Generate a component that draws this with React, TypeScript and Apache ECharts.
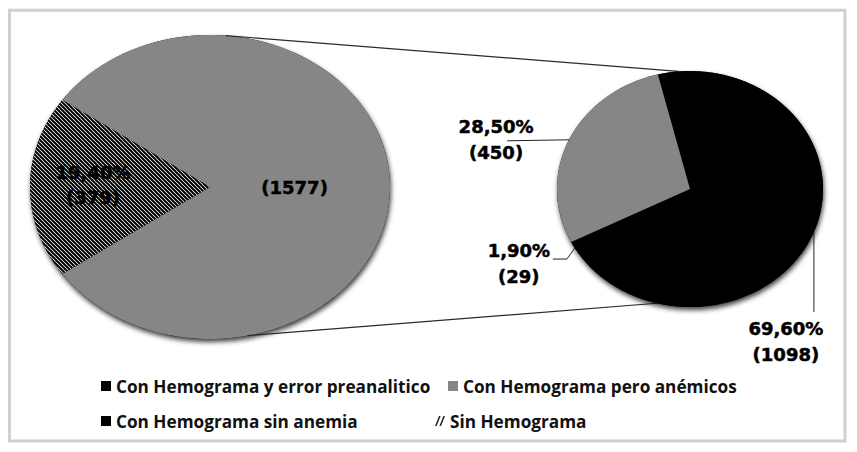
import React, { useEffect, useRef } from 'react';
import * as echarts from 'echarts';

// ---------- DATA ----------
const leftNames = ['Sin Hemograma', 'Con Hemograma'];
const leftValues = [379, 1577];
const leftPercentLabels = ['19,40%', ''];

const rightNames = [
  'Con Hemograma sin anemia',
  'Con Hemograma y error preanalitico',
  'Con Hemograma pero anémicos',
];
const rightValues = [1098, 29, 450];
const rightPercentLabels = ['69,60%', '1,90%', '28,50%'];

const legendNames = [
  'Con Hemograma y error preanalitico',
  'Con Hemograma pero anémicos',
  'Con Hemograma sin anemia',
  'Sin Hemograma',
];

// ---------- LAYOUT / STYLE ----------
const LEFT_PIE = { cx: 210, cy: 187, rx: 180, ry: 152 };
const RIGHT_PIE = { cx: 690, cy: 189, rx: 133, ry: 118 };
const RIGHT_START_DEG = -104;
const GRAY = '#868686';
const LABEL_FONT = {
  fontFamily: 'DejaVu Sans',
  fontWeight: 'bold' as const,
  fontSize: 18,
  stroke: '#000',
  lineWidth: 0.5,
};

const HATCH_SVG =
  'data:image/svg+xml;charset=utf-8,' +
  encodeURIComponent(
    '<svg xmlns="http://www.w3.org/2000/svg" width="4" height="4"><rect width="4" height="4" fill="#fff"/><path d="M-1,3 L1,5 M0,0 L4,4 M3,-1 L5,1" stroke="#000" stroke-width="2"/></svg>'
  );
const hatchFill: any = { image: HATCH_SVG, repeat: 'repeat', imageWidth: 4, imageHeight: 4 };

const leftFills: any[] = [hatchFill, GRAY];
const rightFills: any[] = ['#000', '#000', GRAY];

// label layout for left (inside) labels: fraction of radius along mid angle
const leftLabelLayout = [
  { f: 0.65, dy: -2 },
  { f: 0.47, dy: 0 },
];
// right labels: leader points and text centre relative to the slice anchor on the rim
const rightLabelLayout = [
  { leader: [[0, 0], [0, 80]], text: [-28, 110] },
  { leader: [[0, 0], [-8, 11], [-22, 11]], text: [-56, 15] },
  { leader: [[0, 0], [-62, 1]], text: [-73, 0] },
];
// connector angles (deg) on left and right ellipse
const CONNECT = { leftTop: -85, rightTop: -95, leftBottom: 78, rightBottom: 104.5 };

// ---------- HELPERS ----------
const rad = (d: number) => (d * Math.PI) / 180;

function sliceAngles(values: number[], start: number) {
  const total = values.reduce((a, b) => a + b, 0);
  let a = start;
  return values.map((v) => {
    const s = a;
    a += (v / total) * Math.PI * 2;
    return [s, a];
  });
}

function pt(p: typeof LEFT_PIE, a: number, f = 1) {
  return [p.cx + p.rx * f * Math.cos(a), p.cy + p.ry * f * Math.sin(a)];
}

function slicePoints(p: typeof LEFT_PIE, a0: number, a1: number) {
  const pts: number[][] = [[p.cx, p.cy]];
  const n = Math.max(2, Math.ceil(Math.abs(a1 - a0) / rad(1)));
  for (let i = 0; i <= n; i++) pts.push(pt(p, a0 + ((a1 - a0) * i) / n));
  return pts;
}

const leftTotal = leftValues.reduce((a, b) => a + b, 0);
const leftStart = Math.PI - (leftValues[0] / leftTotal) * Math.PI;
const leftAngles = sliceAngles(leftValues, leftStart);
const rightAngles = sliceAngles(rightValues, rad(RIGHT_START_DEG));

function underlay(p: typeof LEFT_PIE) {
  return {
    type: 'ellipse',
    shape: { cx: p.cx, cy: p.cy, rx: p.rx, ry: p.ry },
    style: {
      fill: '#111',
      shadowBlur: 5,
      shadowOffsetX: 1,
      shadowOffsetY: 3,
      shadowColor: 'rgba(0,0,0,0.75)',
    },
  };
}

function labelText(pct: string, v: number) {
  return pct ? `${pct}\n(${v})` : `(${v})`;
}

function leftRender(i: number) {
  return (_params: any, api: any) => {
    const v = api.value(0);
    const [a0, a1] = leftAngles[i];
    const children: any[] = [];
    if (i === 1) {
      children.push(underlay(LEFT_PIE));
    }
    children.push({ type: 'polygon', shape: { points: slicePoints(LEFT_PIE, a0, a1) }, style: { fill: leftFills[i] } });
    if (i === 1) {
      const lt = pt(LEFT_PIE, rad(CONNECT.leftTop));
      const rt = pt(RIGHT_PIE, rad(CONNECT.rightTop));
      const lb = pt(LEFT_PIE, rad(CONNECT.leftBottom));
      const rb = pt(RIGHT_PIE, rad(CONNECT.rightBottom));
      children.push({ type: 'line', shape: { x1: lt[0], y1: lt[1], x2: rt[0], y2: rt[1] }, style: { stroke: '#2a2a2a', lineWidth: 1.2 } });
      children.push({ type: 'line', shape: { x1: lb[0], y1: lb[1], x2: rb[0], y2: rb[1] }, style: { stroke: '#2a2a2a', lineWidth: 1.2 } });
    }
    const mid = (a0 + a1) / 2;
    const c = pt(LEFT_PIE, mid, leftLabelLayout[i].f);
    children.push({
      type: 'text',
      z2: 10,
      style: {
        text: labelText(leftPercentLabels[i], v),
        x: c[0],
        y: c[1] + leftLabelLayout[i].dy,
        fill: '#000',
        align: 'center',
        verticalAlign: 'middle',
        lineHeight: 25,
        ...LABEL_FONT,
      },
    });
    return { type: 'group', children };
  };
}

function rightRender(i: number) {
  return (_params: any, api: any) => {
    const v = api.value(0);
    const [a0, a1] = rightAngles[i];
    const children: any[] = [];
    if (i === 0) children.push(underlay(RIGHT_PIE));
    children.push({ type: 'polygon', shape: { points: slicePoints(RIGHT_PIE, a0, a1) }, style: { fill: rightFills[i] } });
    const anchor = pt(RIGHT_PIE, (a0 + a1) / 2);
    const lay = rightLabelLayout[i];
    children.push({
      type: 'polyline',
      shape: { points: lay.leader.map(([dx, dy]) => [anchor[0] + dx, anchor[1] + dy]) },
      style: { stroke: '#222', lineWidth: 1, fill: 'none' },
    });
    children.push({
      type: 'text',
      style: {
        text: labelText(rightPercentLabels[i], v),
        x: anchor[0] + lay.text[0],
        y: anchor[1] + lay.text[1],
        fill: '#000',
        align: 'center',
        verticalAlign: 'middle',
        lineHeight: 26,
        ...LABEL_FONT,
      },
    });
    return { type: 'group', children };
  };
}

const legendTextStyle = {
  fontFamily: 'Open Sans',
  fontWeight: 'bold' as const,
  fontSize: 17.2,
  color: '#111',
  lineHeight: 20,
};

function legendItem(name: string, left: number, top: number, icon: string, color: string) {
  return {
    data: [{ name, icon, itemStyle: { color } }],
    left,
    top,
    padding: 0,
    itemWidth: 10,
    itemHeight: 10,
    selectedMode: false,
    textStyle: legendTextStyle,
  };
}

const HATCH_ICON = 'path://M0,10 L4,0 L5.6,0 L1.6,10 Z M4.4,10 L8.4,0 L10,0 L6,10 Z';

export default function App() {
  const ref = useRef<HTMLDivElement>(null);
  useEffect(() => {
    if (!ref.current) return;
    const chart = echarts.init(ref.current, null, { renderer: 'svg' });
    const series: any[] = [];
    // left pie: gray aggregate first (with shadow underlay & connectors), then hatched
    series.push({
      type: 'custom',
      name: leftNames[1],
      coordinateSystem: 'none',
      itemStyle: { color: GRAY },
      data: [leftValues[1]],
      renderItem: leftRender(1),
    });
    series.push({
      type: 'custom',
      name: leftNames[0],
      coordinateSystem: 'none',
      itemStyle: { color: '#000' },
      data: [leftValues[0]],
      renderItem: leftRender(0),
    });
    rightNames.forEach((n, i) => {
      series.push({
        type: 'custom',
        name: n,
        coordinateSystem: 'none',
        itemStyle: { color: typeof rightFills[i] === 'string' ? rightFills[i] : '#000' },
        data: [rightValues[i]],
        renderItem: rightRender(i),
      });
    });
    chart.setOption({
      animation: false,
      backgroundColor: '#fff',
      graphic: [
        {
          type: 'rect',
          shape: { x: 9.5, y: 10.3, width: 835.5, height: 430.7 },
          style: { fill: 'none', stroke: '#d0d0d0', lineWidth: 3 },
          silent: true,
        },
      ],
      legend: [
        legendItem(legendNames[0], 101, 376, 'rect', '#000'),
        legendItem(legendNames[1], 448, 376, 'rect', GRAY),
        legendItem(legendNames[2], 101, 411, 'rect', '#000'),
        legendItem(legendNames[3], 435, 411, HATCH_ICON, '#222'),
      ],
      series,
    });
    return () => chart.dispose();
  }, []);
  return (
    <div
      ref={ref}
      style={{ position: 'fixed', left: 0, top: 0, width: 857, height: 452, background: '#fff' }}
    />
  );
}
